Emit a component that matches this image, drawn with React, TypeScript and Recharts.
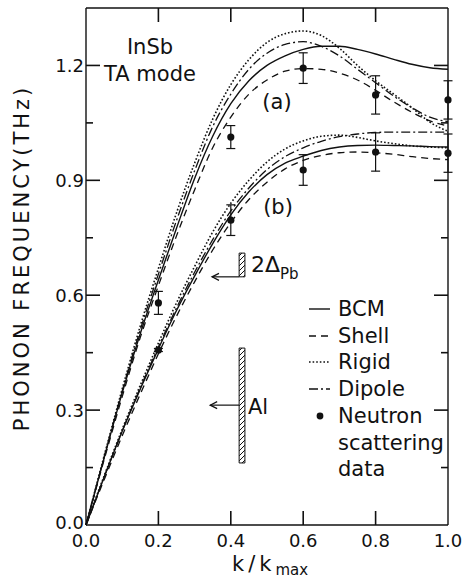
import React from "react"
import {
  ComposedChart,
  Line,
  Scatter,
  ErrorBar,
  XAxis,
  YAxis,
  ReferenceArea,
  ReferenceLine,
  Legend,
} from "recharts"

// k / k_max sample points for the model curves
const kValues = [0, 0.05, 0.1, 0.15, 0.2, 0.25, 0.3, 0.35, 0.4, 0.45, 0.5, 0.55, 0.6, 0.65, 0.7, 0.75, 0.8, 0.85, 0.9, 0.95, 1.0]

// branch (a)
const bcmA = [0, 0.175, 0.345, 0.5, 0.64, 0.775, 0.905, 1.015, 1.1, 1.16, 1.2, 1.225, 1.242, 1.25, 1.25, 1.242, 1.23, 1.216, 1.203, 1.194, 1.19]
const shellA = [0, 0.17, 0.335, 0.49, 0.625, 0.755, 0.875, 0.985, 1.065, 1.125, 1.162, 1.185, 1.192, 1.19, 1.18, 1.162, 1.135, 1.105, 1.078, 1.055, 1.042]
const rigidA = [0, 0.18, 0.355, 0.52, 0.67, 0.815, 0.945, 1.06, 1.15, 1.215, 1.26, 1.283, 1.29, 1.278, 1.245, 1.2, 1.16, 1.125, 1.09, 1.052, 1.028]
const dipoleA = [0, 0.177, 0.35, 0.51, 0.655, 0.795, 0.925, 1.04, 1.125, 1.19, 1.232, 1.255, 1.262, 1.25, 1.225, 1.19, 1.155, 1.12, 1.09, 1.065, 1.053]

// branch (b)
const bcmB = [0, 0.125, 0.245, 0.355, 0.46, 0.56, 0.65, 0.735, 0.81, 0.87, 0.915, 0.945, 0.963, 0.978, 0.987, 0.991, 0.992, 0.991, 0.99, 0.988, 0.987]
const shellB = [0, 0.118, 0.233, 0.342, 0.447, 0.545, 0.635, 0.718, 0.79, 0.85, 0.895, 0.93, 0.952, 0.965, 0.972, 0.974, 0.972, 0.968, 0.962, 0.957, 0.954]
const rigidB = [0, 0.128, 0.25, 0.365, 0.475, 0.58, 0.675, 0.765, 0.84, 0.9, 0.948, 0.982, 1.003, 1.015, 1.018, 1.012, 1.003, 0.996, 0.99, 0.987, 0.985]
const dipoleB = [0, 0.125, 0.245, 0.358, 0.465, 0.567, 0.66, 0.745, 0.82, 0.88, 0.928, 0.962, 0.985, 1.002, 1.014, 1.021, 1.025, 1.026, 1.026, 1.026, 1.026]

// neutron scattering data
const neutronK = [0.2, 0.4, 0.6, 0.8, 1.0]
const neutronA = [0.58, 1.013, 1.193, 1.123, 1.11]
const neutronAErr = [0.03, 0.03, 0.04, 0.05, 0.05]
const neutronB = [0.457, 0.796, 0.927, 0.974, 0.971]
const neutronBErr = [0.004, 0.04, 0.04, 0.05, 0.05]

const xTicks = [0, 0.2, 0.4, 0.6, 0.8, 1.0]
const xInnerTicks = [0.2, 0.4, 0.6, 0.8]
const yTicks = [0, 0.15, 0.3, 0.45, 0.6, 0.75, 0.9, 1.05, 1.2, 1.35]
const Y_MAX = 1.35

// annotation ranges (frequency bands)
const pbGap = { k1: 0.423, k2: 0.439, lo: 0.648, hi: 0.71, arrowTo: 0.348 }
const alGap = { k1: 0.423, k2: 0.439, lo: 0.162, hi: 0.462, arrowAt: 0.313, arrowTo: 0.343 }

const curveData = kValues.map((k, i) => ({
  k,
  bcmA: bcmA[i],
  shellA: shellA[i],
  rigidA: rigidA[i],
  dipoleA: dipoleA[i],
  bcmB: bcmB[i],
  shellB: shellB[i],
  rigidB: rigidB[i],
  dipoleB: dipoleB[i],
}))

const scatterA = neutronK.map((k, i) => ({ k, v: neutronA[i], e: neutronAErr[i] }))
const scatterB = neutronK.map((k, i) => ({ k, v: neutronB[i], e: neutronBErr[i] }))

const FONT = "'DejaVu Sans', sans-serif"
const INK = "#111"
const TICK_W = 1.6

const DASH = {
  bcm: undefined,
  shell: "7 5",
  rigid: "1.6 2",
  dipole: "9 3 2 3",
}

const legendItems = [
  { label: "BCM", dash: DASH.bcm },
  { label: "Shell", dash: DASH.shell },
  { label: "Rigid", dash: DASH.rigid },
  { label: "Dipole", dash: DASH.dipole },
]

const isMajorY = (v: number) => Math.abs(Math.round(v / 0.3) * 0.3 - v) < 1e-6

const LeftTick = (props: any) => {
  const { x, y, payload } = props
  const major = isMajorY(payload.value)
  const top = payload.value > 1.3
  const bottom = payload.value < 0.01
  return (
    <g>
      {!top && !bottom && <line x1={x} x2={x + (major ? 14 : 7)} y1={y} y2={y} stroke={INK} strokeWidth={TICK_W} />}
      {major && (
        <text x={x - 2} y={bottom ? y - 3 : y} textAnchor="end" dominantBaseline="central" fontSize={18} fontFamily={FONT} fill={INK}>
          {payload.value.toFixed(1)}
        </text>
      )}
    </g>
  )
}

const RightTick = (props: any) => {
  const { x, y, payload } = props
  const major = isMajorY(payload.value)
  if (payload.value > 1.3 || payload.value < 0.01) return <g />
  return <line x1={x - (major ? 14 : 7)} x2={x} y1={y} y2={y} stroke={INK} strokeWidth={TICK_W} />
}

const BottomLabel = (props: any) => {
  const { x, y, payload } = props
  return (
    <text x={x} y={y + 15} textAnchor="middle" dominantBaseline="central" fontSize={18} fontFamily={FONT} fill={INK}>
      {payload.value.toFixed(1)}
    </text>
  )
}

// inward ticks on the top and bottom frame for one k value
const FrameTicks = (props: any) => {
  const { x1, y1, y2 } = props
  const top = Math.min(y1, y2)
  const bottom = Math.max(y1, y2)
  return (
    <g>
      <line x1={x1} x2={x1} y1={top} y2={top + 14} stroke={INK} strokeWidth={TICK_W} />
      <line x1={x1} x2={x1} y1={bottom} y2={bottom - 14} stroke={INK} strokeWidth={TICK_W} />
    </g>
  )
}

const Dot = (props: any) => <circle cx={props.cx} cy={props.cy} r={3.6} fill={INK} />

const Arrow = (props: any) => {
  const { x1, y1, x2, y2 } = props
  return (
    <g>
      <line x1={x1} y1={y1} x2={x2} y2={y2} stroke={INK} strokeWidth={1.2} />
      <path d={`M${x2 + 7},${y2 - 3.5} L${x2},${y2} L${x2 + 7},${y2 + 3.5}`} fill="none" stroke={INK} strokeWidth={1.2} />
    </g>
  )
}

const LegendBox = () => (
  <div style={{ fontFamily: FONT, fontSize: 21, color: INK, lineHeight: "26px" }}>
    {legendItems.map((it) => (
      <div key={it.label} style={{ display: "flex", alignItems: "center", height: 26.5 }}>
        <svg width={28} height={10} style={{ marginRight: 4 }}>
          <line x1={3} x2={24} y1={5} y2={5} stroke={INK} strokeWidth={1.4} strokeDasharray={it.dash} />
        </svg>
        <span>{it.label}</span>
      </div>
    ))}
    <div style={{ display: "flex", alignItems: "center", height: 28 }}>
      <svg width={28} height={10} style={{ marginRight: 4 }}>
        <circle cx={14} cy={5} r={3.4} fill={INK} />
      </svg>
      <span>Neutron</span>
    </div>
    <div style={{ paddingLeft: 32, height: 26 }}>scattering</div>
    <div style={{ paddingLeft: 32, height: 26 }}>data</div>
  </div>
)

export default function App() {
  const textStyle = { fontFamily: FONT, fill: INK } as const
  return (
    <div style={{ position: "fixed", left: 0, top: 0, width: 466, height: 579, background: "#fff" }}>
      <ComposedChart width={466} height={579} data={curveData} margin={{ top: 0, right: 0, bottom: 0, left: 0 }}>
        <defs>
          <pattern id="hatch" patternUnits="userSpaceOnUse" width={5} height={5}>
            <path d="M0,5 L5,0" stroke={INK} strokeWidth={1} />
          </pattern>
        </defs>
        <XAxis
          xAxisId={0}
          dataKey="k"
          type="number"
          domain={[0, 1]}
          ticks={xTicks}
          height={54}
          tickSize={0}
          tickMargin={0}
          tick={<BottomLabel />}
          tickLine={false}
          axisLine={{ stroke: INK, strokeWidth: 1.4 }}
          interval={0}
        />
        <XAxis
          xAxisId="top"
          dataKey="k"
          orientation="top"
          type="number"
          domain={[0, 1]}
          allowDataOverflow
          ticks={xTicks}
          height={8}
          tick={false}
          tickLine={false}
          axisLine={{ stroke: INK, strokeWidth: 1.4 }}
        />
        <YAxis
          yAxisId={0}
          type="number"
          domain={[0, Y_MAX]}
          ticks={yTicks}
          width={86}
          tickSize={0}
          tickMargin={0}
          tick={<LeftTick />}
          tickLine={false}
          axisLine={{ stroke: INK, strokeWidth: 1.4 }}
          interval={0}
        />
        <YAxis
          yAxisId="right"
          orientation="right"
          type="number"
          domain={[0, Y_MAX]}
          allowDataOverflow
          ticks={yTicks}
          width={18}
          tickSize={0}
          tickMargin={0}
          tick={<RightTick />}
          tickLine={false}
          axisLine={{ stroke: INK, strokeWidth: 1.4 }}
          interval={0}
        />

        {xInnerTicks.map((t) => (
          <ReferenceLine key={`t${t}`} x={t} stroke={INK} shape={<FrameTicks />} />
        ))}

        <ReferenceArea x1={pbGap.k1} x2={pbGap.k2} y1={pbGap.lo} y2={pbGap.hi} fill="url(#hatch)" fillOpacity={1} stroke={INK} strokeWidth={1} />
        <ReferenceLine
          segment={[{ x: pbGap.k1, y: pbGap.lo }, { x: pbGap.arrowTo, y: pbGap.lo }]}
          shape={<Arrow />}
        />
        <ReferenceArea x1={alGap.k1} x2={alGap.k2} y1={alGap.lo} y2={alGap.hi} fill="url(#hatch)" fillOpacity={1} stroke={INK} strokeWidth={1} />
        <ReferenceLine
          segment={[{ x: alGap.k1, y: alGap.arrowAt }, { x: alGap.arrowTo, y: alGap.arrowAt }]}
          shape={<Arrow />}
        />

        <Line dataKey="bcmA" type="monotone" stroke={INK} strokeWidth={1.4} dot={false} isAnimationActive={false} />
        <Line dataKey="shellA" type="monotone" stroke={INK} strokeWidth={1.3} strokeDasharray={DASH.shell} dot={false} isAnimationActive={false} />
        <Line dataKey="rigidA" type="monotone" stroke={INK} strokeWidth={1.6} strokeDasharray={DASH.rigid} dot={false} isAnimationActive={false} />
        <Line dataKey="dipoleA" type="monotone" stroke={INK} strokeWidth={1.3} strokeDasharray={DASH.dipole} dot={false} isAnimationActive={false} />
        <Line dataKey="bcmB" xAxisId="top" yAxisId="right" type="monotone" stroke={INK} strokeWidth={1.4} dot={false} isAnimationActive={false} />
        <Line dataKey="shellB" type="monotone" stroke={INK} strokeWidth={1.3} strokeDasharray={DASH.shell} dot={false} isAnimationActive={false} />
        <Line dataKey="rigidB" type="monotone" stroke={INK} strokeWidth={1.6} strokeDasharray={DASH.rigid} dot={false} isAnimationActive={false} />
        <Line dataKey="dipoleB" type="monotone" stroke={INK} strokeWidth={1.3} strokeDasharray={DASH.dipole} dot={false} isAnimationActive={false} />

        <Scatter data={scatterA} dataKey="v" shape={<Dot />} isAnimationActive={false}>
          <ErrorBar dataKey="e" direction="y" width={4.5} stroke={INK} strokeWidth={1.2} isAnimationActive={false} />
        </Scatter>
        <Scatter data={scatterB} dataKey="v" shape={<Dot />} isAnimationActive={false}>
          <ErrorBar dataKey="e" direction="y" width={4.5} stroke={INK} strokeWidth={1.2} isAnimationActive={false} />
        </Scatter>

        <Legend
          content={<LegendBox />}
          layout="vertical"
          verticalAlign="middle"
          align="center"
          wrapperStyle={{ position: "absolute", left: 306, top: 296, width: 150 }}
        />
      </ComposedChart>

      <svg width={466} height={579} style={{ position: "absolute", left: 0, top: 0, pointerEvents: "none" }}>
        <text x={150} y={47} textAnchor="middle" dominantBaseline="central" fontSize={21} {...textStyle}>InSb</text>
        <text x={150} y={74} textAnchor="middle" dominantBaseline="central" fontSize={21} {...textStyle}>TA mode</text>
        <text x={277} y={102} textAnchor="middle" dominantBaseline="central" fontSize={21} {...textStyle}>(a)</text>
        <text x={278} y={207} textAnchor="middle" dominantBaseline="central" fontSize={21} {...textStyle}>(b)</text>
        <text x={251} y={272} fontSize={22} {...textStyle}>
          2Δ<tspan fontSize={15} dy={7}>Pb</tspan>
        </text>
        <text x={248} y={414} fontSize={21} {...textStyle}>Al</text>
        <text
          transform="translate(22,258) rotate(-90)"
          textAnchor="middle"
          dominantBaseline="central"
          fontSize={21}
          letterSpacing={3}
          {...textStyle}
        >
          PHONON FREQUENCY(THz)
        </text>
        <text x={232} y={571} fontSize={21} letterSpacing={4} {...textStyle}>
          k/k<tspan fontSize={15} dy={4} letterSpacing={0}>max</tspan>
        </text>
      </svg>
    </div>
  )
}
